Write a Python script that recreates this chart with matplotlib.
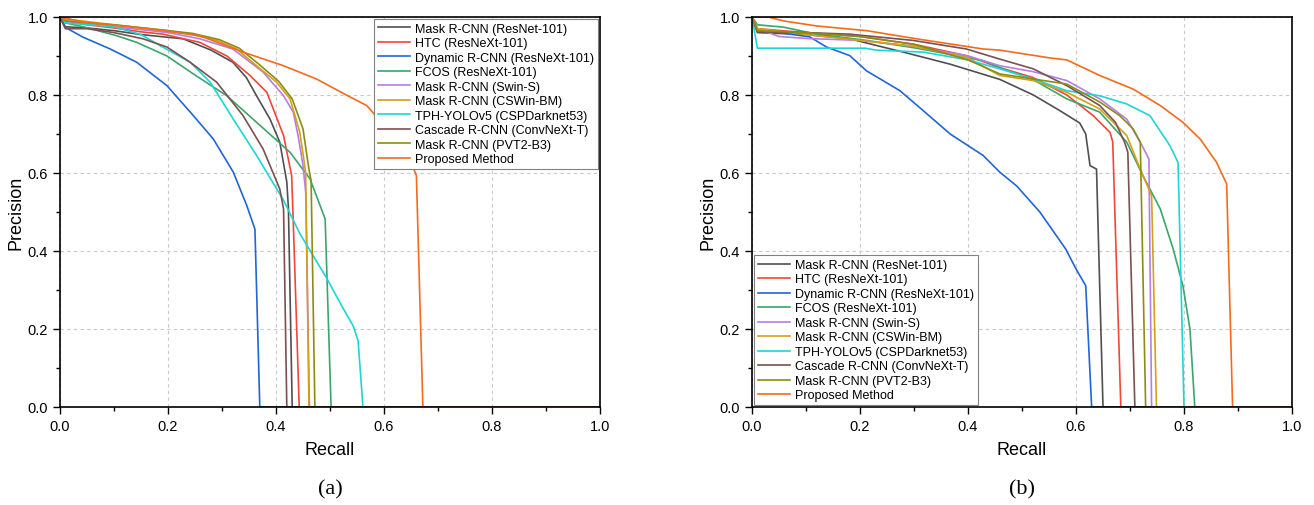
import matplotlib
matplotlib.use("Agg")
import matplotlib.pyplot as plt
from matplotlib.ticker import MultipleLocator

plt.rcParams['font.family'] = ['Liberation Sans', 'DejaVu Sans']

labels = ["Mask R-CNN (ResNet-101)", "HTC (ResNeXt-101)", "Dynamic R-CNN (ResNeXt-101)",
          "FCOS (ResNeXt-101)", "Mask R-CNN (Swin-S)", "Mask R-CNN (CSWin-BM)",
          "TPH-YOLOv5 (CSPDarknet53)", "Cascade R-CNN (ConvNeXt-T)", "Mask R-CNN (PVT2-B3)",
          "Proposed Method"]
colors = ["#505050", "#f2463a", "#2066d8", "#3aa66a", "#b47ee5", "#d4a017",
          "#1ed5d5", "#7b5050", "#8c8c14", "#f46b1b"]

# ---- panel (a) ----
a_resnet_r = [0, 0.01, 0.05, 0.10, 0.15, 0.228, 0.28, 0.32, 0.345, 0.364, 0.389, 0.407, 0.42, 0.423, 0.43, 1.0]
a_resnet_p = [1.0, 0.975, 0.972, 0.965, 0.955, 0.944, 0.915, 0.884, 0.845, 0.798, 0.738, 0.679, 0.577, 0.51, 0.0, 0.0]
a_htc_r = [0, 0.01, 0.05, 0.1, 0.15, 0.191, 0.259, 0.309, 0.352, 0.383, 0.414, 0.429, 0.432, 0.443, 1.0]
a_htc_p = [1.0, 0.99, 0.98, 0.972, 0.962, 0.956, 0.935, 0.90, 0.85, 0.807, 0.696, 0.593, 0.474, 0.0, 0.0]
a_dyn_r = [0, 0.009, 0.043, 0.093, 0.142, 0.198, 0.247, 0.284, 0.321, 0.346, 0.361, 0.37, 1.0]
a_dyn_p = [1.0, 0.974, 0.948, 0.918, 0.884, 0.824, 0.747, 0.687, 0.602, 0.516, 0.456, 0.0, 0.0]
a_fcos_r = [0, 0.01, 0.043, 0.105, 0.142, 0.198, 0.247, 0.309, 0.364, 0.426, 0.463, 0.491, 0.502, 1.0]
a_fcos_p = [1.0, 0.985, 0.975, 0.952, 0.935, 0.90, 0.854, 0.798, 0.73, 0.653, 0.585, 0.482, 0.0, 0.0]
a_swin_r = [0, 0.01, 0.1, 0.2, 0.259, 0.32, 0.376, 0.414, 0.432, 0.441, 0.45, 0.455, 0.462, 1.0]
a_swin_p = [1.0, 0.99, 0.975, 0.96, 0.944, 0.918, 0.859, 0.798, 0.756, 0.695, 0.62, 0.55, 0.0, 0.0]
a_cswin_r = [0, 0.01, 0.1, 0.2, 0.241, 0.29, 0.327, 0.364, 0.401, 0.426, 0.444, 0.452, 0.455, 0.461, 1.0]
a_cswin_p = [1.0, 0.995, 0.98, 0.965, 0.956, 0.94, 0.918, 0.875, 0.833, 0.79, 0.705, 0.63, 0.60, 0.0, 0.0]
a_tph_r = [0, 0.01, 0.1, 0.15, 0.185, 0.241, 0.278, 0.321, 0.364, 0.414, 0.444, 0.494, 0.525, 0.543, 0.552, 0.561, 1.0]
a_tph_p = [1.0, 0.985, 0.975, 0.955, 0.927, 0.884, 0.833, 0.738, 0.645, 0.53, 0.445, 0.33, 0.251, 0.208, 0.17, 0.0, 0.0]
a_casc_r = [0, 0.01, 0.05, 0.1, 0.154, 0.198, 0.241, 0.29, 0.339, 0.376, 0.407, 0.414, 0.42, 1.0]
a_casc_p = [1.0, 0.97, 0.97, 0.96, 0.944, 0.923, 0.884, 0.833, 0.747, 0.662, 0.559, 0.508, 0.0, 0.0]
a_pvt_r = [0, 0.01, 0.1, 0.2, 0.245, 0.295, 0.332, 0.37, 0.405, 0.43, 0.45, 0.461, 0.465, 0.472, 1.0]
a_pvt_p = [1.0, 0.99, 0.98, 0.965, 0.958, 0.942, 0.92, 0.877, 0.835, 0.79, 0.713, 0.61, 0.58, 0.0, 0.0]
a_prop_r = [0, 0.043, 0.167, 0.259, 0.339, 0.414, 0.475, 0.537, 0.568, 0.611, 0.648, 0.66, 0.672, 1.0]
a_prop_p = [1.0, 0.987, 0.969, 0.952, 0.91, 0.875, 0.841, 0.795, 0.773, 0.705, 0.636, 0.593, 0.0, 0.0]

# ---- panel (b) ----
b_resnet_r = [0, 0.01, 0.1, 0.181, 0.28, 0.367, 0.459, 0.521, 0.57, 0.607, 0.618, 0.626, 0.638, 0.65, 1.0]
b_resnet_p = [1.0, 0.96, 0.955, 0.944, 0.91, 0.879, 0.84, 0.80, 0.76, 0.728, 0.70, 0.619, 0.61, 0.0, 0.0]
b_htc_r = [0, 0.01, 0.1, 0.2, 0.3, 0.4, 0.459, 0.52, 0.583, 0.632, 0.663, 0.668, 0.683, 1.0]
b_htc_p = [1.0, 0.97, 0.96, 0.95, 0.93, 0.90, 0.87, 0.845, 0.80, 0.747, 0.704, 0.68, 0.0, 0.0]
b_dyn_r = [0, 0.01, 0.05, 0.107, 0.138, 0.181, 0.212, 0.274, 0.317, 0.367, 0.428, 0.459, 0.49, 0.533, 0.581, 0.60, 0.618, 0.629, 1.0]
b_dyn_p = [1.0, 0.965, 0.96, 0.949, 0.923, 0.901, 0.862, 0.811, 0.76, 0.70, 0.645, 0.602, 0.567, 0.50, 0.405, 0.354, 0.311, 0.0, 0.0]
b_fcos_r = [0, 0.01, 0.058, 0.12, 0.212, 0.305, 0.428, 0.459, 0.52, 0.583, 0.644, 0.694, 0.724, 0.756, 0.78, 0.798, 0.811, 0.82, 1.0]
b_fcos_p = [1.0, 0.98, 0.974, 0.956, 0.94, 0.92, 0.888, 0.87, 0.84, 0.79, 0.756, 0.679, 0.593, 0.508, 0.405, 0.311, 0.2, 0.0, 0.0]
b_swin_r = [0, 0.01, 0.05, 0.1, 0.2, 0.3, 0.4, 0.459, 0.52, 0.583, 0.644, 0.694, 0.719, 0.735, 0.74, 1.0]
b_swin_p = [1.0, 0.97, 0.95, 0.945, 0.94, 0.925, 0.90, 0.875, 0.86, 0.837, 0.79, 0.738, 0.679, 0.636, 0.0, 0.0]
b_cswin_r = [0, 0.01, 0.1, 0.2, 0.3, 0.4, 0.459, 0.521, 0.583, 0.644, 0.694, 0.719, 0.74, 0.749, 1.0]
b_cswin_p = [1.0, 0.97, 0.955, 0.94, 0.925, 0.895, 0.85, 0.837, 0.807, 0.764, 0.696, 0.61, 0.542, 0.0, 0.0]
b_tph_r = [0, 0.01, 0.21, 0.23, 0.317, 0.40, 0.459, 0.521, 0.583, 0.644, 0.694, 0.737, 0.774, 0.789, 0.80, 1.0]
b_tph_p = [1.0, 0.92, 0.92, 0.915, 0.91, 0.89, 0.867, 0.841, 0.811, 0.798, 0.777, 0.747, 0.67, 0.627, 0.0, 0.0]
b_casc_r = [0, 0.01, 0.1, 0.181, 0.298, 0.397, 0.459, 0.521, 0.583, 0.644, 0.673, 0.69, 0.696, 0.709, 1.0]
b_casc_p = [1.0, 0.962, 0.96, 0.956, 0.94, 0.918, 0.892, 0.867, 0.824, 0.773, 0.73, 0.679, 0.653, 0.0, 0.0]
b_pvt_r = [0, 0.01, 0.1, 0.2, 0.3, 0.4, 0.459, 0.583, 0.644, 0.681, 0.706, 0.719, 0.729, 1.0]
b_pvt_p = [1.0, 0.965, 0.96, 0.95, 0.93, 0.89, 0.854, 0.828, 0.782, 0.747, 0.713, 0.679, 0.0, 0.0]
b_prop_r = [0, 0.03, 0.058, 0.12, 0.212, 0.305, 0.428, 0.459, 0.552, 0.583, 0.644, 0.706, 0.756, 0.798, 0.83, 0.86, 0.879, 0.89, 1.0]
b_prop_p = [1.0, 1.0, 0.99, 0.977, 0.965, 0.944, 0.918, 0.915, 0.895, 0.89, 0.85, 0.815, 0.773, 0.73, 0.687, 0.628, 0.572, 0.0, 0.0]

curves_a = [(a_resnet_r, a_resnet_p), (a_htc_r, a_htc_p), (a_dyn_r, a_dyn_p), (a_fcos_r, a_fcos_p),
            (a_swin_r, a_swin_p), (a_cswin_r, a_cswin_p), (a_tph_r, a_tph_p), (a_casc_r, a_casc_p),
            (a_pvt_r, a_pvt_p), (a_prop_r, a_prop_p)]
curves_b = [(b_resnet_r, b_resnet_p), (b_htc_r, b_htc_p), (b_dyn_r, b_dyn_p), (b_fcos_r, b_fcos_p),
            (b_swin_r, b_swin_p), (b_cswin_r, b_cswin_p), (b_tph_r, b_tph_p), (b_casc_r, b_casc_p),
            (b_pvt_r, b_pvt_p), (b_prop_r, b_prop_p)]


def plot_panel(ax, curves, legend_loc):
    for (r, p), lab, col in zip(curves, labels, colors):
        ax.plot(r, p, color=col, lw=1.2, label=lab)
    ax.set_xlim(0, 1)
    ax.set_ylim(0, 1)
    ax.xaxis.set_major_locator(MultipleLocator(0.2))
    ax.yaxis.set_major_locator(MultipleLocator(0.2))
    ax.xaxis.set_minor_locator(MultipleLocator(0.1))
    ax.yaxis.set_minor_locator(MultipleLocator(0.1))
    ax.xaxis.set_major_formatter(plt.FormatStrFormatter('%.1f'))
    ax.yaxis.set_major_formatter(plt.FormatStrFormatter('%.1f'))
    ax.grid(True, which='major', ls=(0, (3, 3)), color='#c8c8c8', lw=0.8)
    ax.tick_params(which='major', length=5, width=1, labelsize=10.5, direction='out')
    ax.tick_params(which='minor', length=3, width=1, direction='out')
    for s in ax.spines.values():
        s.set_linewidth(1.2)
    ax.set_xlabel("Recall", fontsize=13, labelpad=6)
    ax.set_ylabel("Precision", fontsize=13, labelpad=2)
    leg = ax.legend(loc=legend_loc, fontsize=9, frameon=True, fancybox=False,
                    edgecolor='#808080', framealpha=1, borderaxespad=0.15,
                    labelspacing=0.2, handlelength=2.6, handletextpad=0.4,
                    borderpad=0.3)
    leg.get_frame().set_linewidth(0.8)


fig = plt.figure(figsize=(13.14, 5.06), dpi=100)
ax_a = fig.add_axes([60 / 1314, 98 / 506, 540 / 1314, 390 / 506])
ax_b = fig.add_axes([752 / 1314, 98 / 506, 540 / 1314, 390 / 506])
plot_panel(ax_a, curves_a, 'upper right')
plot_panel(ax_b, curves_b, 'lower left')

fig.text(330 / 1314, 1 - 490 / 506, "(a)", ha='center', va='center', fontsize=16, family='Liberation Serif')
fig.text(1022 / 1314, 1 - 490 / 506, "(b)", ha='center', va='center', fontsize=16, family='Liberation Serif')

fig.savefig("out.png", dpi=100)
